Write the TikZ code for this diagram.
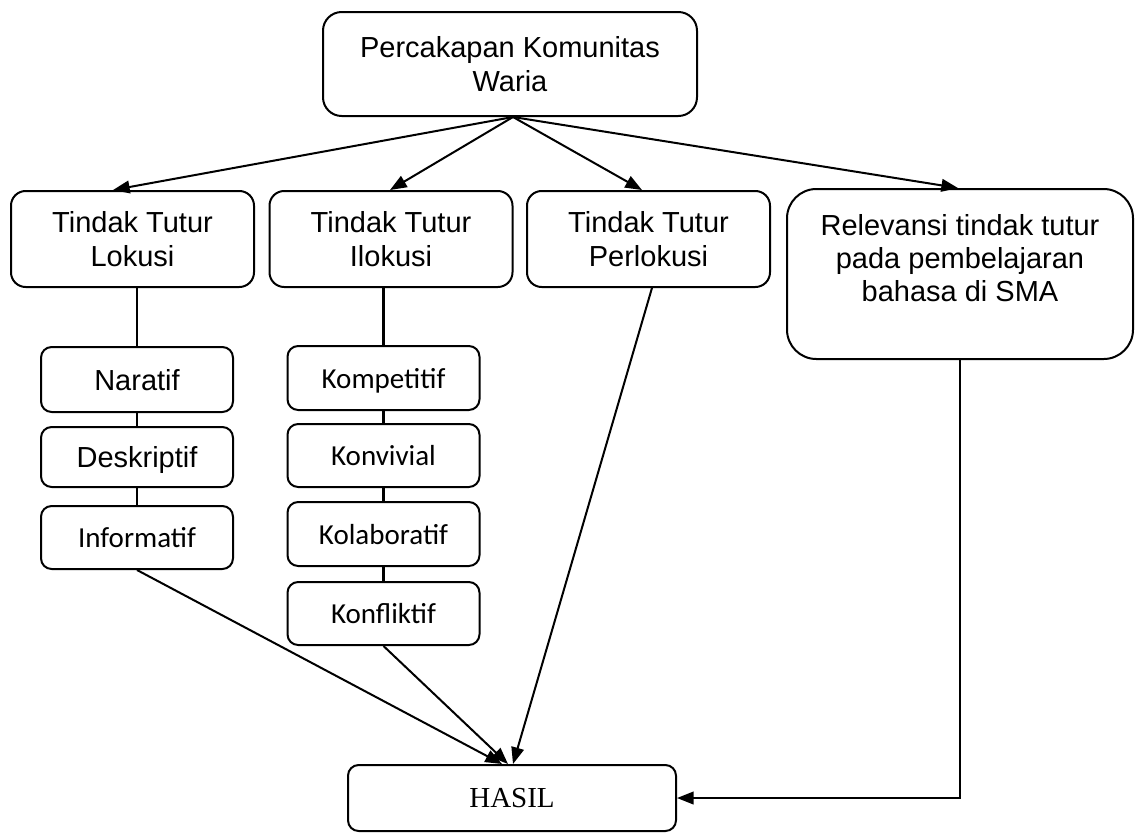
\documentclass[tikz,border=0pt]{standalone}
\usepackage{fontspec}
\setmainfont{Liberation Sans}
\newfontfamily\calfont{Carlito}
\newfontfamily\tmsfont{Liberation Serif}
\usetikzlibrary{arrows.meta,calc}
\begin{document}
\begin{tikzpicture}[x=0.75pt,y=-0.75pt,
  every node/.style={font=\fontsize{21.75}{25}\selectfont},
  box/.style={draw, line width=1.5pt, inner sep=0pt, align=center, rounded corners=11pt},
  tt/.style={box, minimum width=182.25pt, minimum height=72pt},
  sub/.style={box, rounded corners=8pt, minimum width=144pt, text depth=0pt},
  cal/.style={font=\calfont\fontsize{21.75}{25}\selectfont},
  ln/.style={line width=1.6pt},
  arr/.style={line width=1.5pt, -{Triangle[length=12.5pt,width=9.5pt]}}
]
\useasboundingbox (0,0) rectangle (1135,832);

\node[box, rounded corners=14pt, minimum width=280.5pt, minimum height=78pt] (top) at (510,64) {Percakapan Komunitas\\Waria};
\coordinate (apex) at ([xshift=2.25pt]top.south);

\node[tt] (lok) at (132.5,239) {Tindak Tutur\\Lokusi};
\node[tt] (ilo) at (391,239) {Tindak Tutur\\Ilokusi};
\node[tt] (per) at (648.5,239) {Tindak Tutur\\Perlokusi};
\node[box, rounded corners=22pt, minimum width=259.5pt, minimum height=127.5pt] (rel) at (960,274) {};
\node[align=center] (relt) at (960,258) {Relevansi tindak tutur\\pada pembelajaran\\bahasa di SMA};

\node[sub, minimum height=48.75pt] (nar) at (137,379.5) {Naratif};
\node[sub, minimum height=45pt] (des) at (137,457) {Deskriptif};
\node[sub, cal, minimum height=47.25pt] (inf) at (137,537.5) {Informatif};

\node[sub, cal, minimum height=48pt] (kom) at (383.5,378) {Kompetitif};
\node[sub, cal, minimum height=47.25pt] (kvv) at (383.5,455.5) {Konvivial};
\node[sub, cal, minimum height=48pt] (kol) at (383.5,534) {Kolaboratif};
\node[sub, cal, minimum height=47.25pt] (kon) at (383.5,613.5) {Konfliktif};

\node[box, rounded corners=8pt, minimum width=246pt, minimum height=49.5pt, font=\tmsfont\fontsize{21.75}{25}\selectfont] (has) at (512,798) {HASIL};

\draw[arr] (apex) -- ([xshift=-14.6pt]lok.north);
\draw[arr] (apex) -- ([xshift=-0.75pt]ilo.north);
\draw[arr] (apex) -- ([xshift=-4.9pt]per.north);
\draw[arr] (apex) -- ([xshift=-1.5pt]rel.north);

\draw[ln] (nar.north |- lok.south) -- (nar.north);
\draw[ln] (nar.south) -- (des.north);
\draw[ln] (des.south) -- (inf.north);

\draw[ln] (kom.north |- ilo.south) -- (kom.north);
\draw[ln] (kom.south) -- (kvv.north);
\draw[ln] (kvv.south) -- (kol.north);
\draw[ln] (kol.south) -- (kon.north);

\draw[arr] (inf.south) -- ([xshift=-7.5pt]has.north);
\draw[arr] (kon.south) -- ([xshift=-3pt]has.north);
\draw[arr] ([xshift=2.6pt]per.south) -- ([xshift=0.75pt]has.north);
\draw[arr] (rel.south) |- (has.east);
\end{tikzpicture}
\end{document}
